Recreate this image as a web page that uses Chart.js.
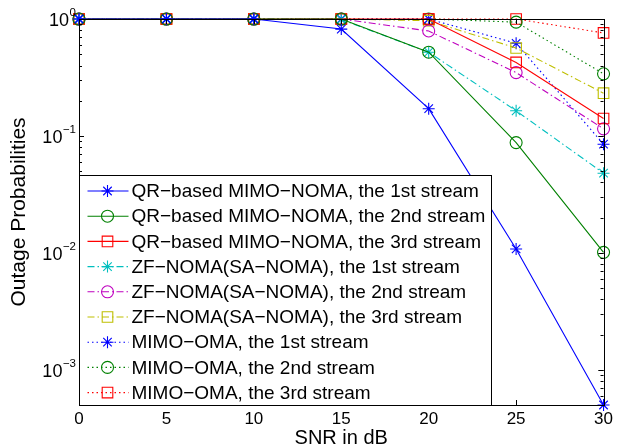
<!DOCTYPE html>
<html>
<head>
<meta charset="utf-8">
<script src="https://cdn.jsdelivr.net/npm/chart.js@4"></script>
<style>
html, body { margin: 0; padding: 0; background: #fff; }
</style>
</head>
<body>
<canvas id="chartContainer" width="617" height="448"></canvas>
<script>
// values
var snr = [0, 5, 10, 15, 20, 25, 30];
var qrStream1 = [1, 1, 1, 0.82, 0.171, 0.0108, 0.0005];
var qrStream2 = [1, 1, 1, 1, 0.52, 0.0877, 0.0101];
var qrStream3 = [1, 1, 1, 1, 1, 0.425, 0.141];
var zfStream1 = [1, 1, 1, 0.99, 0.52, 0.164, 0.048];
var zfStream2 = [1, 1, 1, 1, 0.79, 0.348, 0.115];
var zfStream3 = [1, 1, 1, 1, 0.967, 0.565, 0.232];
var omaStream1 = [1, 1, 1, 1, 1, 0.62, 0.085];
var omaStream2 = [1, 1, 1, 1, 1, 0.94, 0.34];
var omaStream3 = [1, 1, 1, 1, 1, 1, 0.76];
var seriesNames = [
    "QR\u2212based MIMO\u2212NOMA, the 1st stream",
    "QR\u2212based MIMO\u2212NOMA, the 2nd stream",
    "QR\u2212based MIMO\u2212NOMA, the 3rd stream",
    "ZF\u2212NOMA(SA\u2212NOMA), the 1st stream",
    "ZF\u2212NOMA(SA\u2212NOMA), the 2nd stream",
    "ZF\u2212NOMA(SA\u2212NOMA), the 3rd stream",
    "MIMO\u2212OMA, the 1st stream",
    "MIMO\u2212OMA, the 2nd stream",
    "MIMO\u2212OMA, the 3rd stream"
];
var xTicks = [0, 5, 10, 15, 20, 25, 30];
var yDecades = [0, -1, -2, -3];

var FONT = '"Liberation Sans", Arial, Helvetica, sans-serif';
Chart.defaults.font.family = FONT;
Chart.defaults.color = '#000';

var solid = [];
var dashDot = [7, 3, 1.5, 3];
var dotted = [1.5, 3];
var radiusFor = { star: 6, circle: 6, rect: 7.5 };

function makeSet(label, values, color, dash, shape) {
    var pts = [];
    for (var i = 0; i < values.length; i++) {
        pts.push({ x: snr[i], y: values[i] });
    }
    return {
        label: label,
        data: pts,
        borderColor: color,
        backgroundColor: 'rgba(0,0,0,0)',
        borderWidth: 1.1,
        borderDash: dash,
        pointStyle: shape,
        pointRadius: radiusFor[shape],
        pointHoverRadius: radiusFor[shape],
        pointBorderColor: color,
        pointBackgroundColor: 'rgba(0,0,0,0)',
        pointBorderWidth: 1.1,
        tension: 0,
        fill: false,
        clip: false
    };
}

function drawMarker(ctx, shape, r, x, y) {
    ctx.beginPath();
    if (shape === 'circle') {
        ctx.arc(x, y, r, 0, Math.PI * 2);
    } else if (shape === 'rect') {
        var s = r * Math.SQRT1_2;
        ctx.rect(x - s, y - s, 2 * s, 2 * s);
    } else {
        var d = r * Math.SQRT1_2;
        ctx.moveTo(x - r, y); ctx.lineTo(x + r, y);
        ctx.moveTo(x, y - r); ctx.lineTo(x, y + r);
        ctx.moveTo(x - d, y - d); ctx.lineTo(x + d, y + d);
        ctx.moveTo(x - d, y + d); ctx.lineTo(x + d, y - d);
    }
    ctx.stroke();
}

var matlabFrame = {
    id: 'matlabFrame',
    afterDraw: function (chart) {
        var ctx = chart.ctx, a = chart.chartArea;
        var xs = chart.scales.x, ys = chart.scales.y;
        ctx.save();
        ctx.strokeStyle = '#000';
        ctx.lineWidth = 1;
        ctx.setLineDash([]);
        ctx.strokeRect(Math.round(a.left) + 0.5, Math.round(a.top) + 0.5,
            Math.round(a.right - a.left), Math.round(a.bottom - a.top));

        ctx.beginPath();
        xTicks.forEach(function (t) {
            var px = Math.round(xs.getPixelForValue(t)) + 0.5;
            ctx.moveTo(px, a.bottom); ctx.lineTo(px, a.bottom - 5);
            ctx.moveTo(px, a.top); ctx.lineTo(px, a.top + 5);
        });
        yDecades.forEach(function (k) {
            for (var m = 1; m <= 9; m++) {
                var v = m * Math.pow(10, k - 1);
                if (v < ys.min || v > ys.max) continue;
                var len = m === 1 ? 5 : 3;
                var py = Math.round(ys.getPixelForValue(v)) + 0.5;
                ctx.moveTo(a.left, py); ctx.lineTo(a.left + len, py);
                ctx.moveTo(a.right, py); ctx.lineTo(a.right - len, py);
            }
            var pTop = Math.round(ys.getPixelForValue(Math.pow(10, k))) + 0.5;
            ctx.moveTo(a.left, pTop); ctx.lineTo(a.left + 5, pTop);
            ctx.moveTo(a.right, pTop); ctx.lineTo(a.right - 5, pTop);
        });
        ctx.stroke();

        // y tick labels as 10 with a raised exponent
        ctx.fillStyle = '#000';
        ctx.textAlign = 'right';
        ctx.textBaseline = 'alphabetic';
        yDecades.forEach(function (k) {
            var py = ys.getPixelForValue(Math.pow(10, k));
            var exp = k === 0 ? '0' : '\u2212' + (-k);
            ctx.font = '11.5px ' + FONT;
            var ew = ctx.measureText(exp).width;
            ctx.fillText(exp, a.left - 3, py - 3);
            ctx.font = '18px ' + FONT;
            ctx.fillText('10', a.left - 3 - ew - 0.5, py + 7);
        });

        // legend box in the lower left corner
        var rowH = 25.2;
        var boxW = 412;
        var boxH = 230;
        var bx = Math.round(a.left) + 0.5;
        var by = Math.round(a.bottom) - boxH + 0.5;
        ctx.fillStyle = '#fff';
        ctx.fillRect(bx, by, boxW, boxH);
        ctx.strokeStyle = '#000';
        ctx.strokeRect(bx, by, boxW, boxH);
        ctx.font = '19px ' + FONT;
        ctx.textAlign = 'left';
        ctx.textBaseline = 'middle';
        chart.data.datasets.forEach(function (ds, i) {
            var y = by + 15.5 + i * rowH;
            ctx.strokeStyle = ds.borderColor;
            ctx.lineWidth = 1.1;
            ctx.setLineDash(ds.borderDash);
            ctx.beginPath();
            ctx.moveTo(bx + 8, y); ctx.lineTo(bx + 49, y);
            ctx.stroke();
            ctx.setLineDash([]);
            drawMarker(ctx, ds.pointStyle, ds.pointRadius, bx + 28, y);
            ctx.fillStyle = '#000';
            ctx.fillText(ds.label, bx + 52, y + 1);
        });
        ctx.restore();
    }
};

var chart = new Chart(document.getElementById('chartContainer'), {
    type: 'line',
    data: {
        datasets: [
            makeSet(seriesNames[0], qrStream1, '#0000ff', solid, 'star'),
            makeSet(seriesNames[1], qrStream2, '#008000', solid, 'circle'),
            makeSet(seriesNames[2], qrStream3, '#ff0000', solid, 'rect'),
            makeSet(seriesNames[3], zfStream1, '#00bfbf', dashDot, 'star'),
            makeSet(seriesNames[4], zfStream2, '#bf00bf', dashDot, 'circle'),
            makeSet(seriesNames[5], zfStream3, '#bfbf00', dashDot, 'rect'),
            makeSet(seriesNames[6], omaStream1, '#0000ff', dotted, 'star'),
            makeSet(seriesNames[7], omaStream2, '#008000', dotted, 'circle'),
            makeSet(seriesNames[8], omaStream3, '#ff0000', dotted, 'rect')
        ]
    },
    options: {
        responsive: false,
        animation: false,
        devicePixelRatio: 1,
        layout: { padding: { top: 19, right: 10, left: 0, bottom: 0 } },
        plugins: {
            legend: { display: false },
            tooltip: { enabled: false }
        },
        scales: {
            x: {
                type: 'linear',
                min: 0,
                max: 30,
                afterBuildTicks: function (scale) {
                    scale.ticks = xTicks.map(function (v) { return { value: v }; });
                },
                afterFit: function (scale) { scale.height = 43; },
                grid: { display: false, drawTicks: false },
                border: { display: false },
                ticks: { font: { size: 17 }, color: '#000', padding: 4, maxRotation: 0 },
                title: {
                    display: true,
                    text: 'SNR in dB',
                    font: { size: 20, lineHeight: 1 },
                    color: '#000',
                    padding: 0
                }
            },
            y: {
                type: 'logarithmic',
                min: 0.0005,
                max: 1,
                afterFit: function (scale) { scale.width = 79; },
                grid: { display: false, drawTicks: false },
                border: { display: false },
                ticks: { display: false },
                title: {
                    display: true,
                    text: 'Outage Probabilities',
                    font: { size: 21, lineHeight: 1 },
                    color: '#000',
                    padding: 9
                }
            }
        }
    },
    plugins: [matlabFrame]
});
</script>
</body>
</html>
